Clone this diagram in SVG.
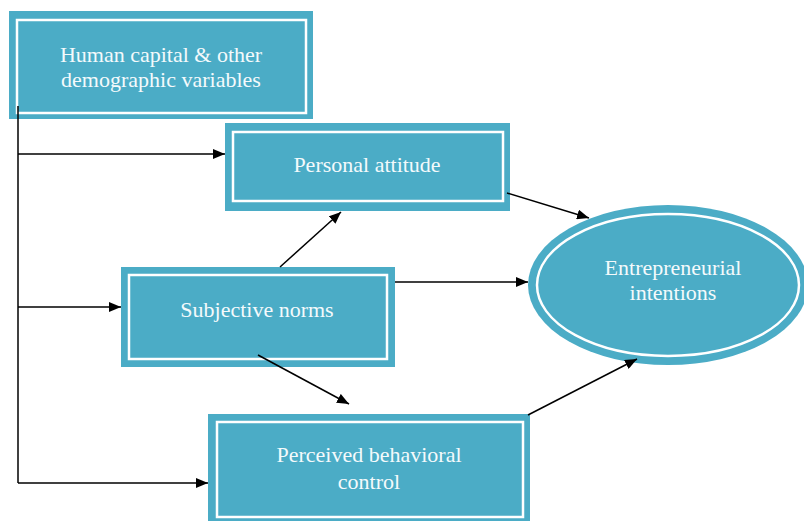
<svg xmlns="http://www.w3.org/2000/svg" width="804" height="521" viewBox="0 0 804 521">
<style>
.box{fill:#4BACC6;}
.inner{fill:none;stroke:#FFFFFF;stroke-width:2.5;}
.lbl{font-family:"Liberation Serif","Times New Roman",serif;font-size:22px;fill:#F4FAFC;text-anchor:middle;}
.conn{stroke:#000;stroke-width:1.5;fill:none;}
</style>
<defs>
<marker id="ah" viewBox="0 0 12 10" refX="12" refY="5" markerWidth="12" markerHeight="10" markerUnits="userSpaceOnUse" orient="auto">
<path d="M0,0 L12,5 L0,10 z" fill="#000"/>
</marker>
</defs>
<rect width="804" height="521" fill="#FFFFFF"/>
<g id="human-capital">
<rect class="box" x="9" y="11" width="304" height="108"/>
<rect class="inner" x="17" y="20" width="289" height="93"/>
<text class="lbl" x="161" y="62">Human capital &amp; other</text>
<text class="lbl" x="161" y="87">demographic variables</text>
</g>
<g id="personal-attitude">
<rect class="box" x="225" y="123" width="285" height="88"/>
<rect class="inner" x="233" y="132" width="270" height="69"/>
<text class="lbl" x="367" y="172">Personal attitude</text>
</g>
<g id="subjective-norms">
<rect class="box" x="121" y="267" width="274" height="100"/>
<rect class="inner" x="129" y="275" width="258" height="84"/>
<text class="lbl" x="257" y="317">Subjective norms</text>
</g>
<g id="perceived-control">
<rect class="box" x="208" y="414" width="322" height="112"/>
<rect class="inner" x="217" y="422" width="306" height="95"/>
<text class="lbl" x="369" y="462">Perceived behavioral</text>
<text class="lbl" x="369" y="489">control</text>
</g>
<g id="entrepreneurial-intentions">
<ellipse class="box" cx="668" cy="285" rx="140" ry="80"/>
<ellipse class="inner" cx="668" cy="285" rx="131" ry="71"/>
<text class="lbl" x="673" y="275">Entrepreneurial</text>
<text class="lbl" x="673" y="300">intentions</text>
</g>
<g id="connectors">
<path class="conn" d="M18,106 L18,483"/>
<path class="conn" d="M18,154 L225,154" marker-end="url(#ah)"/>
<path class="conn" d="M18,307 L121,307" marker-end="url(#ah)"/>
<path class="conn" d="M18,483 L208,483" marker-end="url(#ah)"/>
<path class="conn" d="M507,193 L589,218" marker-end="url(#ah)"/>
<path class="conn" d="M280,267 L341,212" marker-end="url(#ah)"/>
<path class="conn" d="M395,282 L528,282" marker-end="url(#ah)"/>
<path class="conn" d="M258,355 L349,404" marker-end="url(#ah)"/>
<path class="conn" d="M528,415 L637,359" marker-end="url(#ah)"/>
</g>
</svg>
